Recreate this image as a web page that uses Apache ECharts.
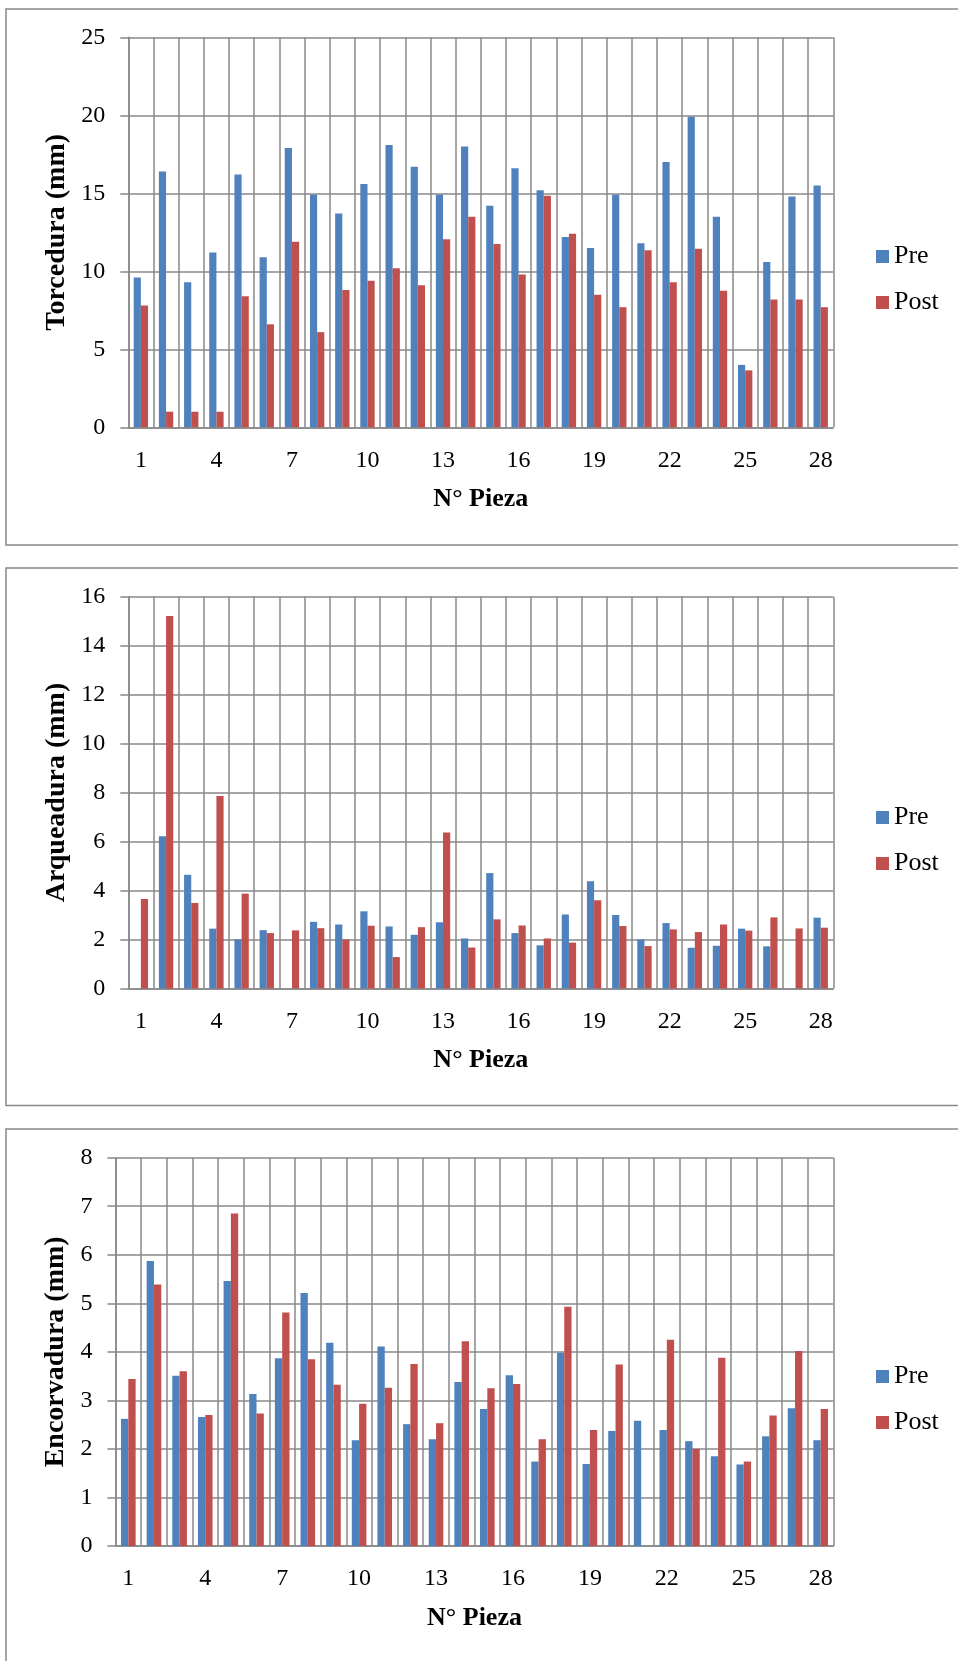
<!DOCTYPE html>
<html>
<head>
<meta charset="utf-8">
<script src="https://cdn.jsdelivr.net/npm/echarts@6/dist/echarts.min.js"></script>
<style>
  html, body { margin: 0; padding: 0; background: #fff; }
  #chart { width: 958px; height: 1661px; }
</style>
</head>
<body>
<div id="chart"></div>
<script>
// ---- Data ----
const categories = Array.from({length: 28}, (_, i) => String(i + 1));
const seriesNames = ['Pre', 'Post'];

const torceduraPre  = [9.6, 16.4, 9.3, 11.2, 16.2, 10.9, 17.9, 14.9, 13.7, 15.6, 18.1, 16.7, 14.9, 18.0,
                       14.2, 16.6, 15.2, 12.2, 11.5, 14.9, 11.8, 17.0, 19.9, 13.5, 4.0, 10.6, 14.8, 15.5];
const torceduraPost = [7.8, 1.0, 1.0, 1.0, 8.4, 6.6, 11.9, 6.1, 8.8, 9.4, 10.2, 9.1, 12.05, 13.5,
                       11.75, 9.8, 14.85, 12.4, 8.5, 7.7, 11.35, 9.3, 11.45, 8.75, 3.65, 8.2, 8.2, 7.7];

const arqueaduraPre  = [0, 6.22, 4.64, 2.44, 2.0, 2.38, 0, 2.72, 2.61, 3.15, 2.53, 2.19, 2.7, 2.04,
                        4.71, 2.26, 1.76, 3.02, 4.38, 3.0, 2.0, 2.67, 1.66, 1.74, 2.44, 1.72, 0, 2.89];
const arqueaduraPost = [3.65, 15.21, 3.49, 7.86, 3.87, 2.26, 2.37, 2.46, 2.0, 2.56, 1.28, 2.5, 6.37, 1.67,
                        2.82, 2.57, 2.04, 1.87, 3.6, 2.55, 1.73, 2.41, 2.3, 2.61, 2.36, 2.9, 2.45, 2.48];

const encorvaduraPre  = [2.62, 5.87, 3.51, 2.66, 5.46, 3.13, 3.87, 5.21, 4.19, 2.18, 4.11, 2.51, 2.2, 3.38,
                         2.82, 3.52, 1.74, 3.98, 1.69, 2.37, 2.58, 2.39, 2.16, 1.85, 1.68, 2.26, 2.84, 2.18];
const encorvaduraPost = [3.44, 5.39, 3.6, 2.7, 6.85, 2.73, 4.81, 3.85, 3.32, 2.93, 3.26, 3.75, 2.53, 4.22,
                         3.25, 3.34, 2.2, 4.93, 2.39, 3.74, 0, 4.25, 2.0, 3.88, 1.74, 2.69, 4.02, 2.82];

const yNames = ['Torcedura (mm)', 'Arqueadura (mm)', 'Encorvadura (mm)'];
const xName = 'N° Pieza';
const yMax = [25, 16, 8];
const yInterval = [5, 2, 1];

// ---- Styles ----
const FONT = '"Liberation Serif", "Times New Roman", serif';
const GRID_COLOR = '#888888';
const BLUE = '#4F81BD';
const RED = '#C0504D';
const TICK_SIZE = 24;
const XNAME_SIZE = 26;
const YNAME_SIZE = 28;
const LEGEND_SIZE = 26;

const grids = [
  {left: 128.3, top: 37.3, width: 705, height: 390},
  {left: 128.3, top: 596.7, width: 705, height: 391.7},
  {left: 115.5, top: 1157.7, width: 718, height: 388.3}
];
const yNameGap = [56, 56, 43.5];
const legendTops = [243.5, 804.5, 1363.5];

const dataSets = [
  [torceduraPre, torceduraPost],
  [arqueaduraPre, arqueaduraPost],
  [encorvaduraPre, encorvaduraPost]
];

const xAxes = [], yAxes = [], series = [], legends = [];
for (let i = 0; i < 3; i++) {
  xAxes.push({
    type: 'category', gridIndex: i, data: categories,
    name: xName, nameLocation: 'middle', nameGap: 59,
    nameTextStyle: {fontFamily: FONT, fontSize: XNAME_SIZE, fontWeight: 'bold', color: '#000'},
    axisLine: {show: true, lineStyle: {color: GRID_COLOR, width: 1.5}},
    axisTick: {show: false},
    axisLabel: {interval: 2, margin: 21, fontFamily: FONT, fontSize: TICK_SIZE, color: '#000'},
    splitLine: {show: true, interval: 0, lineStyle: {color: GRID_COLOR, width: 1.5}}
  });
  yAxes.push({
    type: 'value', gridIndex: i, min: 0, max: yMax[i], interval: yInterval[i],
    name: yNames[i], nameLocation: 'middle', nameGap: yNameGap[i], nameRotate: 90,
    nameTextStyle: {fontFamily: FONT, fontSize: YNAME_SIZE, fontWeight: 'bold', color: '#000'},
    axisLine: {show: true, lineStyle: {color: GRID_COLOR, width: 1.5}},
    axisTick: {show: true, length: 8, lineStyle: {color: GRID_COLOR, width: 1.5}},
    axisLabel: {margin: 23, fontFamily: FONT, fontSize: TICK_SIZE, color: '#000'},
    splitLine: {show: true, lineStyle: {color: GRID_COLOR, width: 1.5}}
  });
  series.push({
    name: seriesNames[0], type: 'bar', xAxisIndex: i, yAxisIndex: i,
    data: dataSets[i][0], barGap: '0%', barCategoryGap: '43%',
    itemStyle: {color: BLUE}
  });
  series.push({
    name: seriesNames[1], type: 'bar', xAxisIndex: i, yAxisIndex: i,
    data: dataSets[i][1], barGap: '0%', barCategoryGap: '43%',
    itemStyle: {color: RED}
  });
  legends.push({
    orient: 'vertical', left: 876, top: legendTops[i], padding: 0,
    data: seriesNames, icon: 'rect', itemWidth: 13, itemHeight: 13, itemGap: 20,
    selectedMode: false,
    textStyle: {fontFamily: FONT, fontSize: LEGEND_SIZE, color: '#000'}
  });
}

const chart = echarts.init(document.getElementById('chart'), null, {renderer: 'canvas'});
chart.setOption({
  animation: false,
  backgroundColor: '#fff',
  graphic: [
    {type: 'rect', shape: {x: 6, y: 9, width: 1000, height: 536}, style: {fill: 'none', stroke: GRID_COLOR, lineWidth: 1.5}, silent: true},
    {type: 'rect', shape: {x: 6, y: 568, width: 1000, height: 537.5}, style: {fill: 'none', stroke: GRID_COLOR, lineWidth: 1.5}, silent: true},
    {type: 'rect', shape: {x: 6, y: 1129, width: 1000, height: 700}, style: {fill: 'none', stroke: GRID_COLOR, lineWidth: 1.5}, silent: true}
  ],
  legend: legends,
  grid: grids,
  xAxis: xAxes,
  yAxis: yAxes,
  series: series
});
</script>
</body>
</html>
